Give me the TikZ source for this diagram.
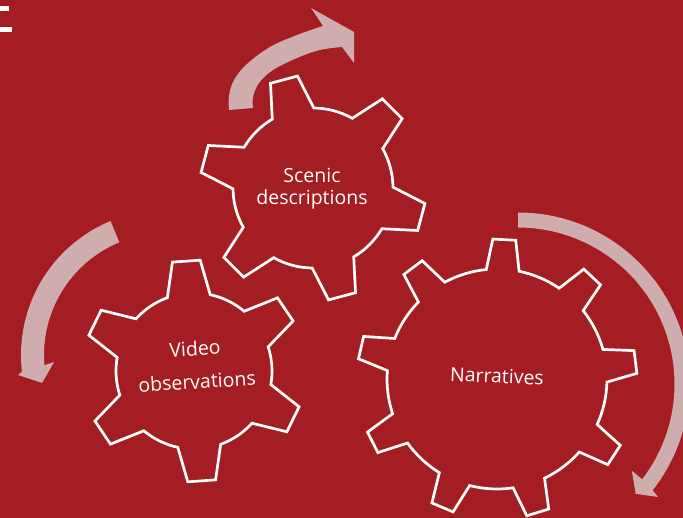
\documentclass[tikz,border=0pt]{standalone}
\usepackage{fontspec}
\setmainfont{Open Sans}
\usetikzlibrary{calc}
\definecolor{bg}{RGB}{164,29,35}
\definecolor{arr}{RGB}{207,172,173}
\tikzset{
  gearline/.style={draw=white, line width=2.7pt, line join=miter},
  arrowfill/.style={fill=arr},
  geartext/.style={text=white, font=\fontsize{19.5}{22.5}\selectfont, align=center, inner sep=0pt},
}
% #1 x, #2 y, #3 teeth, #4 inner r, #5 outer r, #6 first tooth angle, #7 half base angle, #8 half tip angle
\newcommand\gearpath[8]{%
  \pgfmathsetmacro\gstep{360/#3}
  \draw[gearline, shift={(#1,#2)}] (#6-#7:#4)
    \foreach \k in {1,...,#3} {
      -- ({#6+(\k-1)*\gstep-#8}:#5) -- ({#6+(\k-1)*\gstep+#8}:#5)
      -- ({#6+(\k-1)*\gstep+#7}:#4)
      arc[start angle={#6+(\k-1)*\gstep+#7}, end angle={#6+\k*\gstep-#7}, radius=#4]
    } -- cycle;
}
\begin{document}
\begin{tikzpicture}[x=1pt, y=-1pt]
\fill[bg] (0,0) rectangle (683,518);
\useasboundingbox (0,0) rectangle (683,518);
\clip (0,0) rectangle (683,518);

% top-left fragments
\fill[white] (0,6) rectangle (9,11);
\fill[white] (0,27) rectangle (12,32);

% arrows
\fill[arrowfill] plot[smooth, tension=0.6] coordinates {(229,110) (229,96) (234,80) (247,64) (270,47) (297,35) (323,26)}
  -- (311,8) -- (354,32) -- (354,63) -- (342,47)
  -- plot[smooth, tension=0.6] coordinates {(342,47) (320,50) (297,58) (273,70) (259,83) (253,97) (253,108)} -- cycle;

\begin{scope}[shift={(166,355)}]
  \fill[arrowfill] (-112.5:145) arc[start angle=-112.5, end angle=-186.6, radius=145]
    -- (-187.7:149.3) -- (-192.7:127) -- (-183.6:112.2) -- (-184.8:122)
    arc[start angle=-184.8, end angle=-112.5, radius=122] -- cycle;
\end{scope}

\begin{scope}[shift={(518,384)}]
  \fill[arrowfill] (-90:171.5) arc[start angle=-90, end angle=38.3, radius=171.5]
    -- (38.9:180) -- (43:161) -- (37.3:143) -- (37.5:156.5)
    arc[start angle=37.5, end angle=-90, radius=156.5] -- cycle;
\end{scope}

% gears
\gearpath{313}{188}{6}{80}{113}{-45}{15.6}{7.1}
\gearpath{194}{371}{6}{78}{111}{-34}{16}{7.2}
\gearpath{497}{379}{9}{110}{140}{-7}{8.6}{4.7}

\node[geartext] (scenic) at (312,188.5) {Scenic\\descriptions};
\node[geartext, rotate=3.5] (video) at (196,365) {Video\\[10.5pt]observations};
\node[geartext, rotate=-2.5] (narr) at (497,376) {Narratives};
\end{tikzpicture}
\end{document}
